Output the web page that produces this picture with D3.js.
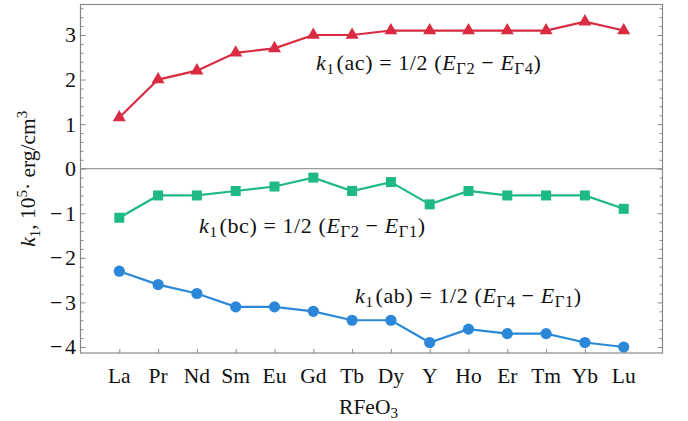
<!DOCTYPE html>
<html><head><meta charset="utf-8">
<script src="https://cdn.jsdelivr.net/npm/d3@7"></script>
<style>
body{margin:0;background:#fff;}
svg text{font-family:"Liberation Serif","Times New Roman",serif;}
</style></head>
<body><div id="chart"></div>
<script>
const categories = ["La","Pr","Nd","Sm","Eu","Gd","Tb","Dy","Y","Ho","Er","Tm","Yb","Lu"];
const acValues = [1.15,2.0,2.2,2.6,2.7,3.0,3.0,3.1,3.1,3.1,3.1,3.1,3.3,3.1];
const bcValues = [-1.1,-0.6,-0.6,-0.5,-0.4,-0.2,-0.5,-0.3,-0.8,-0.5,-0.6,-0.6,-0.6,-0.9];
const abValues = [-2.3,-2.6,-2.8,-3.1,-3.1,-3.2,-3.4,-3.4,-3.9,-3.6,-3.7,-3.7,-3.9,-4.0];
const yTicks = [-4,-3,-2,-1,0,1,2,3];

const W = 688, H = 421;
const L = 80.5, R = 662.5, T = 4.5, B = 353;
const FONT = "Liberation Serif, Times New Roman, serif";
const svg = d3.select("#chart").append("svg").attr("width", W).attr("height", H)
  .attr("font-family", FONT);

const x = d3.scaleLinear().domain([-1, categories.length]).range([L, R]);
const y = d3.scaleLinear().domain([-4.135, 3.684]).range([B, T]);

const frameColor = "#8a8a8a";
svg.append("rect").attr("x", L).attr("y", T).attr("width", R - L).attr("height", B - T)
  .attr("fill", "none").attr("stroke", frameColor).attr("stroke-width", 1.2);
svg.append("line").attr("x1", L).attr("x2", R).attr("y1", y(0)).attr("y2", y(0))
  .attr("stroke", "#9a9a9a").attr("stroke-width", 1.2);

const minorTicks = d3.range(-41, 37).map(d => d / 10).filter(d => Math.abs(d * 5 - Math.round(d * 5)) < 1e-6 && Math.abs(d - Math.round(d)) > 1e-6 && d >= -4.13 && d <= 3.68);
function tickAxis(axisFn, pos, vals, size) {
  const g = svg.append("g").attr("transform", pos)
    .call(axisFn(y).tickValues(vals).tickSize(size).tickFormat(""));
  g.select(".domain").remove();
  g.selectAll("line").attr("stroke", frameColor);
}
tickAxis(d3.axisRight, `translate(${L},0)`, yTicks, 5);
tickAxis(d3.axisRight, `translate(${L},0)`, minorTicks, 3);
tickAxis(d3.axisLeft, `translate(${R},0)`, yTicks, 5);
tickAxis(d3.axisLeft, `translate(${R},0)`, minorTicks, 3);

const yLab = svg.append("g").selectAll("text").data(yTicks).join("text")
  .attr("font-family", FONT)
  .attr("x", L - 4.5).attr("y", d => y(d)).attr("dy", "0.34em")
  .attr("text-anchor", "end").attr("font-size", 22).attr("fill", "#111");
yLab.each(function(d) {
  const t = d3.select(this);
  if (d < 0) {
    t.append("tspan").text("−");
    t.append("tspan").attr("dx", 2.5).text(d3.format("d")(-d));
  } else {
    t.text(d3.format("d")(d));
  }
});

const idx = categories.map((c, i) => i);
const bottomAxis = svg.append("g").attr("transform", `translate(0,${B})`)
  .call(d3.axisTop(x).tickValues(idx).tickSize(4).tickFormat(""));
bottomAxis.select(".domain").remove();
bottomAxis.selectAll("line").attr("stroke", frameColor);
svg.append("g").selectAll("text").data(categories).join("text")
  .attr("font-family", FONT)
  .attr("x", (d, i) => x(i)).attr("y", 383)
  .attr("text-anchor", "middle").attr("font-size", 21.5).attr("fill", "#111")
  .text(d => d);

const xt = svg.append("text").attr("font-family", FONT).attr("x", (L + R) / 2 - 3).attr("y", 414).attr("text-anchor", "middle")
  .attr("font-size", 21.5).attr("fill", "#111");
xt.append("tspan").text("RFeO");
xt.append("tspan").attr("font-size", 15).attr("dy", 4).text("3");

const yt = svg.append("text").attr("font-family", FONT).attr("transform", `translate(35,${(T + B) / 2}) rotate(-90)`)
  .attr("text-anchor", "middle").attr("font-size", 21.5).attr("fill", "#111");
yt.append("tspan").attr("font-style", "italic").text("k");
yt.append("tspan").attr("font-size", 15).attr("dy", 5).text("1");
yt.append("tspan").attr("dy", -5).text(",  10");
yt.append("tspan").attr("font-size", 15).attr("dy", -8).text("5");
yt.append("tspan").attr("dy", 8).text("· erg/cm");
yt.append("tspan").attr("font-size", 15).attr("dy", -8).text("3");

const series = [
  {vals: acValues, color: "#d92b42", marker: "triangle"},
  {vals: bcValues, color: "#1fb987", marker: "square"},
  {vals: abValues, color: "#2b88d8", marker: "circle"}
];
const line = d3.line().x((d, i) => x(i)).y(d => y(d));
series.forEach(s => {
  svg.append("path").datum(s.vals).attr("d", line).attr("fill", "none")
    .attr("stroke", s.color).attr("stroke-width", 2.2);
  const g = svg.append("g").attr("fill", s.color);
  if (s.marker === "circle") {
    g.selectAll("circle").data(s.vals).join("circle")
      .attr("cx", (d, i) => x(i)).attr("cy", d => y(d)).attr("r", 5.6);
  } else if (s.marker === "square") {
    g.selectAll("rect").data(s.vals).join("rect")
      .attr("x", (d, i) => x(i) - 5).attr("y", d => y(d) - 5).attr("width", 10).attr("height", 10);
  } else {
    const tri = d3.symbol().type(d3.symbolTriangle).size(74);
    g.selectAll("path").data(s.vals).join("path")
      .attr("transform", (d, i) => `translate(${x(i)},${y(d)})`).attr("d", tri);
  }
});

function annot(xp, yp, label, g1, g2) {
  const t = svg.append("text").attr("font-family", FONT).attr("x", xp).attr("y", yp)
    .attr("font-size", 22).attr("fill", "#111").attr("letter-spacing", 0.6);
  t.append("tspan").attr("font-style", "italic").text("k");
  t.append("tspan").attr("font-size", 15).attr("dy", 4).text("1");
  t.append("tspan").attr("dy", -4).attr("dx", 2).text("(" + label + ") = 1/2 (");
  t.append("tspan").attr("font-style", "italic").text("E");
  t.append("tspan").attr("font-size", 16.5).attr("dy", 4).text("Γ" + g1);
  t.append("tspan").attr("dy", -4).text(" − ");
  t.append("tspan").attr("font-style", "italic").text("E");
  t.append("tspan").attr("font-size", 16.5).attr("dy", 4).text("Γ" + g2);
  t.append("tspan").attr("dy", -4).text(")");
}
annot(316, 70, "ac", "2", "4");
annot(199, 233, "bc", "2", "1");
annot(355, 303, "ab", "4", "1");
</script></body></html>
